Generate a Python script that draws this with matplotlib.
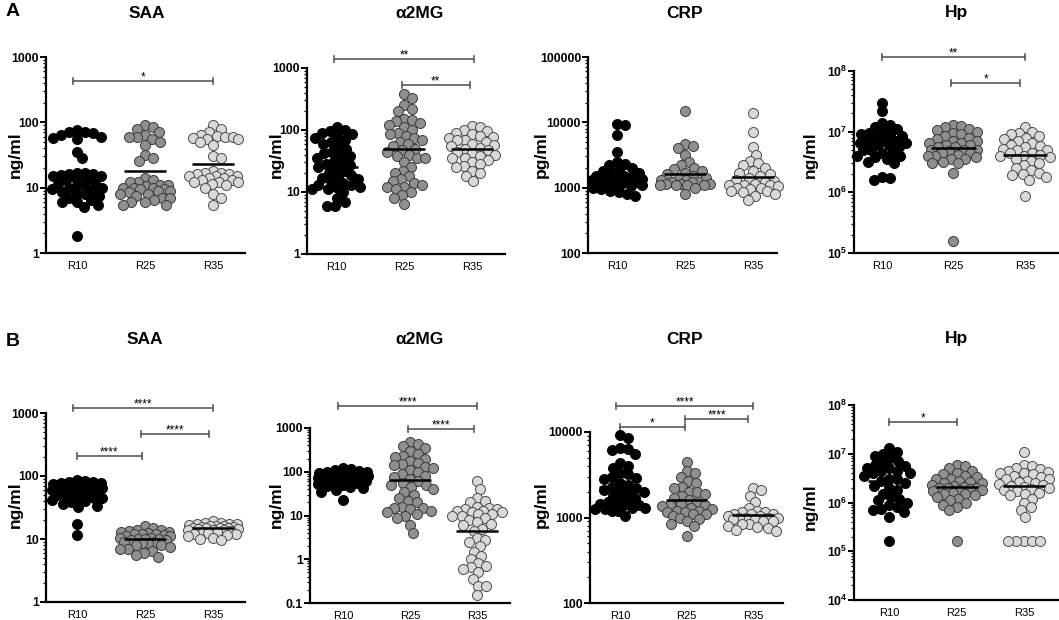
import numpy as np
import matplotlib
matplotlib.use('Agg')
import matplotlib.pyplot as plt
import matplotlib.transforms as mtransforms
from matplotlib.ticker import LogLocator, FuncFormatter, NullFormatter

plt.rcParams['font.family'] = ['Liberation Sans', 'DejaVu Sans']
plt.rcParams['mathtext.fontset'] = 'custom'
plt.rcParams['mathtext.rm'] = 'Liberation Sans'
plt.rcParams['mathtext.bf'] = 'Liberation Sans:bold'

W, H = 1059, 620
groups = ['R10', 'R25', 'R35']

# ---------------- Row A ----------------
a_saa_r10 = [75, 72, 70, 68, 65, 60, 58, 55, 35, 28, 17, 16.5, 16, 16, 15.5, 15, 15, 15, 14.5, 14,
             13, 12, 11.5, 11, 10.5, 10, 10, 9.5, 9, 8.5, 8, 8, 7.5, 7, 6.5, 6, 6, 5.5, 5, 1.8]
a_saa_r25 = [90, 85, 80, 70, 65, 60, 60, 55, 50, 45, 32, 28, 26, 14, 13, 12, 12, 11, 11, 10.5, 10,
             10, 10, 9.5, 9.5, 9, 9, 8.5, 8, 8, 7.5, 7, 7, 6.5, 6, 6, 5.5, 5.5]
a_saa_r35 = [90, 80, 70, 65, 62, 60, 60, 58, 55, 55, 50, 45, 30, 28, 18, 17, 17, 16, 16, 15, 15, 15,
             14, 14, 13, 13, 12, 12, 12, 11.5, 11, 10, 8, 7, 5.5]
a_saa_med = [14, 18, 23]

a_a2mg_r10 = [110, 100, 95, 90, 85, 80, 75, 70, 65, 60, 55, 50, 45, 42, 40, 38, 35, 32, 30, 28, 27,
              25, 24, 22, 20, 19, 18, 17, 16, 15, 14, 13, 13, 12, 12, 11, 11, 10, 8, 7, 6, 6]
a_a2mg_r25 = [380, 330, 250, 220, 200, 150, 145, 140, 130, 120, 110, 100, 90, 85, 80, 75, 70, 65, 60,
              55, 50, 48, 45, 40, 38, 36, 35, 30, 25, 22, 20, 18, 16, 15, 14, 13, 12, 12, 11, 10, 9, 8, 6.5]
a_a2mg_r35 = [115, 110, 100, 95, 90, 85, 80, 78, 75, 70, 68, 65, 60, 58, 55, 52, 50, 48, 45, 42, 40,
              38, 36, 35, 33, 30, 28, 26, 25, 22, 20, 18, 15]
a_a2mg_med = [25, 49, 50]

a_crp_r10 = [9500, 9000, 6300, 3500, 2500, 2300, 2200, 2000, 1900, 1800, 1700, 1600, 1500, 1500, 1450,
             1400, 1400, 1350, 1300, 1300, 1250, 1200, 1200, 1150, 1150, 1100, 1100, 1050, 1000, 950,
             900, 850, 800, 750]
a_crp_r25 = [15000, 4700, 4400, 4000, 3200, 2500, 2200, 2000, 1900, 1800, 1700, 1600, 1500, 1400, 1400,
             1300, 1300, 1200, 1200, 1200, 1150, 1150, 1150, 1100, 1100, 1100, 1100, 1000, 800]
a_crp_r35 = [14000, 7000, 4200, 3200, 2600, 2400, 2200, 2000, 1800, 1700, 1600, 1500, 1400, 1300, 1250,
             1200, 1150, 1100, 1100, 1100, 1050, 1000, 1000, 950, 900, 900, 850, 800, 750, 650]
a_crp_med = [1500, 1600, 1450]

a_hp_r10 = [3e7, 2.2e7, 1.4e7, 1.3e7, 1.2e7, 1.1e7, 1.0e7, 9.5e6, 9e6, 9e6, 8.5e6, 8e6, 7.5e6, 7e6, 7e6,
            6.5e6, 6.5e6, 6e6, 6e6, 5.5e6, 5e6, 5e6, 4.5e6, 4.5e6, 4e6, 4e6, 3.8e6, 3.5e6, 3.2e6, 3e6,
            1.8e6, 1.7e6, 1.6e6]
a_hp_r25 = [1.3e7, 1.25e7, 1.2e7, 1.1e7, 1.05e7, 1e7, 9.5e6, 9e6, 8.5e6, 8e6, 7.5e6, 7e6, 7e6, 6.5e6,
            6.5e6, 6e6, 6e6, 5.5e6, 5.5e6, 5e6, 5e6, 5e6, 4.8e6, 4.5e6, 4.5e6, 4.2e6, 4e6, 4e6, 3.8e6,
            3.5e6, 3.5e6, 3.2e6, 3e6, 3e6, 2.1e6, 1.6e5]
a_hp_r35 = [1.2e7, 1e7, 9.5e6, 9e6, 8.5e6, 8e6, 7.5e6, 7e6, 6.5e6, 6e6, 5.8e6, 5.5e6, 5.2e6, 5e6, 5e6,
            4.5e6, 4.5e6, 4.2e6, 4e6, 4e6, 3.8e6, 3.5e6, 3.3e6, 3e6, 2.8e6, 2.5e6, 2.3e6, 2.1e6, 2e6,
            1.9e6, 1.8e6, 1.6e6, 8.8e5]
a_hp_med = [6.5e6, 5.4e6, 4.2e6]

# ---------------- Row B ----------------
b_saa_r10 = [85, 82, 80, 80, 78, 78, 76, 75, 75, 74, 72, 70, 70, 68, 66, 65, 63, 62, 60, 58, 56, 55,
             53, 52, 50, 48, 46, 45, 44, 42, 40, 38, 36, 34, 32, 17, 11.5]
b_saa_r25 = [16, 15, 14, 14, 13.5, 13, 13, 12.5, 12, 12, 12, 11.5, 11, 11, 10.5, 10.5, 10, 10, 10, 9.5,
             9.5, 9, 9, 8.5, 8.5, 8, 8, 7.5, 7, 7, 6.5, 6, 5.5, 5.2]
b_saa_r35 = [19, 18, 18, 17, 17, 17, 16.5, 16, 16, 16, 15.5, 15.5, 15, 15, 15, 15, 14.5, 14.5, 14, 14,
             14, 13.5, 13, 13, 12.5, 12, 12, 11.5, 11, 10.5, 10, 9.5]
b_saa_med = [55, 10, 15]

b_a2mg_r10 = [120, 115, 110, 105, 100, 100, 95, 95, 90, 90, 88, 85, 85, 82, 80, 80, 78, 75, 75, 72, 70,
              70, 68, 65, 65, 62, 60, 58, 55, 52, 50, 48, 45, 42, 38, 35, 23]
b_a2mg_r25 = [480, 420, 380, 340, 300, 260, 230, 220, 200, 180, 160, 150, 140, 130, 120, 110, 100, 90,
              80, 75, 70, 60, 55, 50, 50, 45, 40, 35, 30, 25, 22, 20, 16, 15, 15, 14, 13, 12, 11, 10, 9, 6, 4]
b_a2mg_r35 = [60, 40, 25, 22, 20, 16, 15, 14, 14, 13, 13, 12, 12, 11, 11, 10, 10, 9, 8, 7, 6.5, 6, 5,
              4.5, 3, 2.8, 2.5, 2, 1.5, 1.2, 1.0, 0.8, 0.7, 0.65, 0.6, 0.5, 0.35, 0.25, 0.25, 0.15]
b_a2mg_med = [72, 65, 4.4]

b_crp_r10 = [9200, 8500, 6500, 6300, 6200, 5500, 4300, 4000, 3800, 3300, 3200, 3000, 2900, 2800, 2500,
             2400, 2300, 2200, 2100, 2000, 2000, 1900, 1800, 1700, 1600, 1500, 1500, 1450, 1400, 1400,
             1350, 1300, 1300, 1250, 1250, 1200, 1200, 1050]
b_crp_r25 = [4500, 3500, 3300, 3000, 2700, 2500, 2300, 2200, 2000, 2000, 1900, 1800, 1700, 1600, 1500,
             1450, 1400, 1400, 1350, 1300, 1250, 1200, 1200, 1150, 1150, 1100, 1100, 1050, 1000, 950,
             900, 850, 800, 600]
b_crp_r35 = [2200, 2100, 1800, 1500, 1300, 1200, 1150, 1150, 1100, 1100, 1100, 1050, 1050, 1000, 1000,
             1000, 1000, 950, 950, 900, 900, 850, 850, 800, 780, 750, 720, 700]
b_crp_med = [2250, 1600, 1080]

b_hp_r10 = [1.3e7, 1.1e7, 1e7, 9e6, 8e6, 7e6, 6.5e6, 6e6, 5.5e6, 5e6, 5e6, 4.5e6, 4.5e6, 4e6, 4e6,
            3.5e6, 3e6, 3e6, 2.8e6, 2.5e6, 2.2e6, 2e6, 1.8e6, 1.5e6, 1.3e6, 1.2e6, 1.1e6, 1e6, 9e5,
            8e5, 7.5e5, 7e5, 6.5e5, 5e5, 1.6e5]
b_hp_r25 = [6e6, 5.5e6, 5e6, 4.5e6, 4e6, 3.8e6, 3.5e6, 3.3e6, 3e6, 3e6, 2.8e6, 2.6e6, 2.5e6, 2.5e6,
            2.3e6, 2.2e6, 2.1e6, 2e6, 2e6, 2e6, 1.9e6, 1.8e6, 1.8e6, 1.7e6, 1.6e6, 1.5e6, 1.5e6, 1.4e6,
            1.3e6, 1.2e6, 1.1e6, 1e6, 9e5, 8e5, 7e5, 1.6e5]
b_hp_r35 = [1.1e7, 6e6, 5.5e6, 5e6, 4.8e6, 4.5e6, 4.2e6, 4e6, 4e6, 3.8e6, 3.5e6, 3.3e6, 3e6, 3e6,
            2.8e6, 2.6e6, 2.5e6, 2.4e6, 2.3e6, 2.2e6, 2.1e6, 2e6, 1.9e6, 1.8e6, 1.7e6, 1.6e6, 1.5e6,
            1.4e6, 1.2e6, 1e6, 8e5, 7e5, 5e5, 1.6e5, 1.6e5, 1.6e5, 1.6e5, 1.6e5]
b_hp_med = [2.8e6, 2.1e6, 2.2e6]

# significance brackets: (group_from, group_to, label)
a_saa_sig = [(0, 2, '*')]
a_a2mg_sig = [(0, 2, '**'), (1, 2, '**')]
a_crp_sig = []
a_hp_sig = [(0, 2, '**'), (1, 2, '*')]
b_saa_sig = [(0, 2, '****'), (1, 2, '****'), (0, 1, '****')]
b_a2mg_sig = [(0, 2, '****'), (1, 2, '****')]
b_crp_sig = [(0, 2, '****'), (1, 2, '****'), (0, 1, '*')]
b_hp_sig = [(0, 1, '*')]

# ---------------- layout (pixels) ----------------
panels = [
    dict(title='SAA', ylab='ng/ml', data=[a_saa_r10, a_saa_r25, a_saa_r35], med=a_saa_med,
         ylim=(1, 1000), box=(46, 57, 245, 253), xlim=(-0.46, 2.47), fmt='plain',
         sig=a_saa_sig, sig_y=[0.878], sig_x=[(-0.06, 2.0)],
         tpos=(147, 13), lpos=(15, 155)),
    dict(title='α2MG', ylab='ng/ml', data=[a_a2mg_r10, a_a2mg_r25, a_a2mg_r35], med=a_a2mg_med,
         ylim=(1, 1000), box=(307, 68, 505, 254), xlim=(-0.44, 2.49), fmt='plain',
         sig=a_a2mg_sig, sig_y=[1.048, 0.909], sig_x=[(-0.04, 2.03), (0.96, 1.97)],
         tpos=(420, 13), lpos=(276, 155)),
    dict(title='CRP', ylab='pg/ml', data=[a_crp_r10, a_crp_r25, a_crp_r35], med=a_crp_med,
         ylim=(100, 100000), box=(588, 57, 777, 253), xlim=(-0.43, 2.35), fmt='plain',
         sig=a_crp_sig, sig_y=[], sig_x=[],
         tpos=(685, 13), lpos=(541, 155)),
    dict(title='Hp', ylab='ng/ml', data=[a_hp_r10, a_hp_r25, a_hp_r35], med=a_hp_med,
         ylim=(1e5, 1e8), box=(854, 71, 1058, 253), xlim=(-0.39, 2.46), fmt='pow',
         sig=a_hp_sig, sig_y=[1.077, 0.934], sig_x=[(0.0, 2.0), (0.97, 1.93)],
         tpos=(957, 13), lpos=(810, 155)),
    dict(title='SAA', ylab='ng/ml', data=[b_saa_r10, b_saa_r25, b_saa_r35], med=b_saa_med,
         ylim=(1, 1000), box=(46, 413, 245, 602), xlim=(-0.46, 2.47), fmt='plain',
         sig=b_saa_sig, sig_y=[1.026, 0.889, 0.772], sig_x=[(-0.06, 2.0), (0.94, 1.94), (-0.01, 0.95)],
         tpos=(145, 339), lpos=(15, 505)),
    dict(title='α2MG', ylab='ng/ml', data=[b_a2mg_r10, b_a2mg_r25, b_a2mg_r35], med=b_a2mg_med,
         ylim=(0.1, 1000), box=(310, 428, 510, 603), xlim=(-0.49, 2.49), fmt='plain',
         sig=b_a2mg_sig, sig_y=[1.126, 0.994], sig_x=[(-0.07, 2.0), (0.97, 1.95)],
         tpos=(420, 339), lpos=(276, 505)),
    dict(title='CRP', ylab='pg/ml', data=[b_crp_r10, b_crp_r25, b_crp_r35], med=b_crp_med,
         ylim=(100, 10000), box=(590, 432, 783, 603), xlim=(-0.45, 2.45), fmt='plain',
         sig=b_crp_sig, sig_y=[1.152, 1.076, 1.029], sig_x=[(-0.06, 2.0), (0.98, 1.93), (0.0, 0.97)],
         tpos=(685, 339), lpos=(541, 505)),
    dict(title='Hp', ylab='ng/ml', data=[b_hp_r10, b_hp_r25, b_hp_r35], med=b_hp_med,
         ylim=(1e4, 1e8), box=(854, 405, 1058, 600), xlim=(-0.52, 2.5), fmt='pow',
         sig=b_hp_sig, sig_y=[0.913], sig_x=[(0.0, 1.0)],
         tpos=(957, 339), lpos=(810, 507)),
]

face = ['#000000', '#8f8f8f', '#d9d9d9']
edge = ['#000000', '#3a3a3a', '#4a4a4a']
DIAM = 10.0        # marker diameter in px
COLL = 0.8         # allowed overlap factor
HALFW = 25.0       # max half-width of a swarm in px


def swarm(ypix, d, halfw):
    order = np.argsort(-ypix)
    px_list, py_list = [], []
    xs = np.zeros(len(ypix))
    grid = np.arange(-halfw, halfw + 0.01, 1.0)
    grid = grid[np.argsort(np.abs(grid) + 1e-3 * (grid < 0))]
    for idx in order:
        y = ypix[idx]
        if px_list:
            PX = np.array(px_list)
            PY = np.array(py_list)
            dist = np.sqrt((grid[:, None] - PX[None, :]) ** 2 + (y - PY[None, :]) ** 2).min(axis=1)
            ok = np.where(dist >= d)[0]
            if len(ok):
                c = grid[ok[0]]
            else:
                c = grid[int(np.argmax(dist))]
        else:
            c = 0.0
        xs[idx] = c
        px_list.append(c)
        py_list.append(y)
    return xs


def fmt_plain(v, pos):
    if v >= 1:
        return '%d' % round(v)
    return ('%g' % v)


def fmt_pow(v, pos):
    e = int(round(np.log10(v)))
    return r'$\mathbf{10^{%d}}$' % e


fig = plt.figure(figsize=(W / 100, H / 100), dpi=100)

for p in panels:
    x0, y0, x1, y1 = p['box']
    ax = fig.add_axes([x0 / W, 1 - y1 / H, (x1 - x0) / W, (y1 - y0) / H])
    ax.set_yscale('log')
    ax.set_ylim(*p['ylim'])
    ax.set_xlim(*p['xlim'])
    for s in ['top', 'right']:
        ax.spines[s].set_visible(False)
    for s in ['left', 'bottom']:
        ax.spines[s].set_linewidth(1.6)
    ax.set_xticks(range(3))
    ax.set_xticklabels(groups, fontsize=8)
    ax.tick_params(axis='x', length=0, pad=6)
    ax.yaxis.set_major_locator(LogLocator(base=10, numticks=20))
    ax.yaxis.set_minor_locator(LogLocator(base=10, subs=np.arange(2, 10), numticks=20))
    ax.yaxis.set_minor_formatter(NullFormatter())
    ax.yaxis.set_major_formatter(FuncFormatter(fmt_pow if p['fmt'] == 'pow' else fmt_plain))
    ax.tick_params(axis='y', which='major', length=4, width=1.4, pad=1, labelsize=8.8)
    ax.tick_params(axis='y', which='minor', length=2.5, width=0.9)
    for lab in ax.get_yticklabels():
        lab.set_fontweight('bold')

    t = ax.transData
    ppu = t.transform((1, 1))[0] - t.transform((0, 1))[0]
    for i, vals in enumerate(p['data']):
        vals = np.asarray(vals, float)
        ypix = np.array([t.transform((i, v))[1] for v in vals])
        offs = swarm(ypix, DIAM * COLL, HALFW) / ppu
        ax.scatter(i + offs, vals, s=(DIAM * 0.72) ** 2, facecolor=face[i], edgecolor=edge[i],
                   linewidth=0.7, zorder=3, clip_on=False)
        ax.hlines(p['med'][i], i - 0.31, i + 0.31, color='black', lw=1.8, zorder=5)

    blend = mtransforms.blended_transform_factory(ax.transData, ax.transAxes)
    for (g1, g2, lab), yf, (xa, xb) in zip(p['sig'], p['sig_y'], p['sig_x']):
        ax.plot([xa, xb], [yf, yf], transform=blend, color='#5a5a5a', lw=1.2, clip_on=False)
        cap = 3.0 / (y1 - y0)
        for xx in (xa, xb):
            ax.plot([xx, xx], [yf - cap, yf + cap], transform=blend, color='#5a5a5a', lw=1.2,
                    clip_on=False)
        ax.annotate(lab, xy=((xa + xb) / 2, yf), xycoords=blend, xytext=(0, -1.5),
                    textcoords='offset points', ha='center', va='bottom', fontsize=8.5)

    tx, ty = p['tpos']
    fig.text(tx / W, 1 - ty / H, p['title'], ha='center', va='center', fontsize=12.5,
             fontweight='bold')
    lx, ly = p['lpos']
    fig.text(lx / W, 1 - ly / H, p['ylab'], ha='center', va='center', rotation=90,
             fontsize=12.5, fontweight='bold')

fig.text(13 / W, 1 - 12 / H, 'A', ha='center', va='center', fontsize=14, fontweight='bold')
fig.text(13 / W, 1 - 342 / H, 'B', ha='center', va='center', fontsize=14, fontweight='bold')

fig.savefig('out.png', dpi=100)
